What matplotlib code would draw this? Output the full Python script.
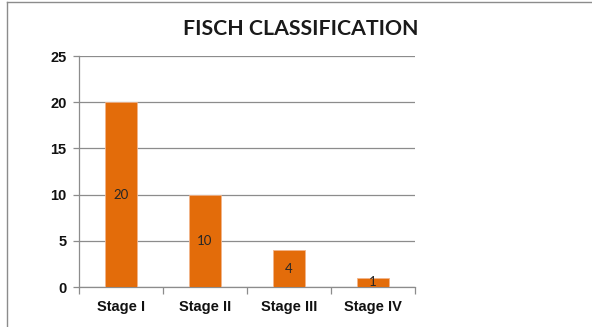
import matplotlib.pyplot as plt
from matplotlib.lines import Line2D

# chart data
stages = ['Stage I', 'Stage II', 'Stage III', 'Stage IV']
counts = [20, 10, 4, 1]
y_ticks = [0, 5, 10, 15, 20, 25]

bar_color = '#E36C0A'
grid_color = '#8C8C8C'

fig = plt.figure(figsize=(5.92, 3.27), dpi=100)
ax = fig.add_axes([0.1334, 0.1223, 0.5676, 0.7064])

x = range(len(stages))
bars = ax.bar(x, counts, width=0.39, color=bar_color, edgecolor='#F2B48A', linewidth=0.6, zorder=3)

# data labels in the middle of each bar
for i, v in enumerate(counts):
    ax.text(i, v / 2, str(v), ha='center', va='center', fontsize=9.5,
            family='Lato', color='#262626', zorder=4)

ax.set_xlim(-0.5, len(stages) - 0.5)
ax.set_ylim(0, 25)
ax.set_yticks(y_ticks)
ax.set_yticklabels([str(t) for t in y_ticks], fontsize=10.5, fontweight='bold',
                   family='Liberation Sans', color='#111111')
ax.yaxis.grid(True, color=grid_color, linewidth=0.9, zorder=0)

# category labels, tick marks between categories
ax.set_xticks(list(x))
ax.set_xticklabels(stages, fontsize=10.5, fontweight='bold', family='Liberation Sans',
                   color='#111111')
ax.tick_params(axis='x', length=0, pad=9)
ax.set_xticks([i - 0.5 for i in range(len(stages) + 1)], minor=True)
ax.tick_params(axis='x', which='minor', length=5, color=grid_color, width=0.9)
ax.tick_params(axis='y', length=4, color=grid_color, width=0.9, pad=5)

for side in ['top', 'right']:
    ax.spines[side].set_visible(False)
for side in ['left', 'bottom']:
    ax.spines[side].set_color(grid_color)
    ax.spines[side].set_linewidth(0.9)

fig.text(0.508, 0.912, 'FISCH CLASSIFICATION', ha='center', va='center',
         fontsize=15.3, fontweight='bold', family='Lato', color='#1a1a1a')

# outer frame (top and left edges only)
fig.add_artist(Line2D([0.012, 0.012], [0, 0.995], color='#8C8C8C', linewidth=1.0))
fig.add_artist(Line2D([0.012, 1.0], [0.995, 0.995], color='#8C8C8C', linewidth=1.0))

fig.savefig('out.png', dpi=100)
